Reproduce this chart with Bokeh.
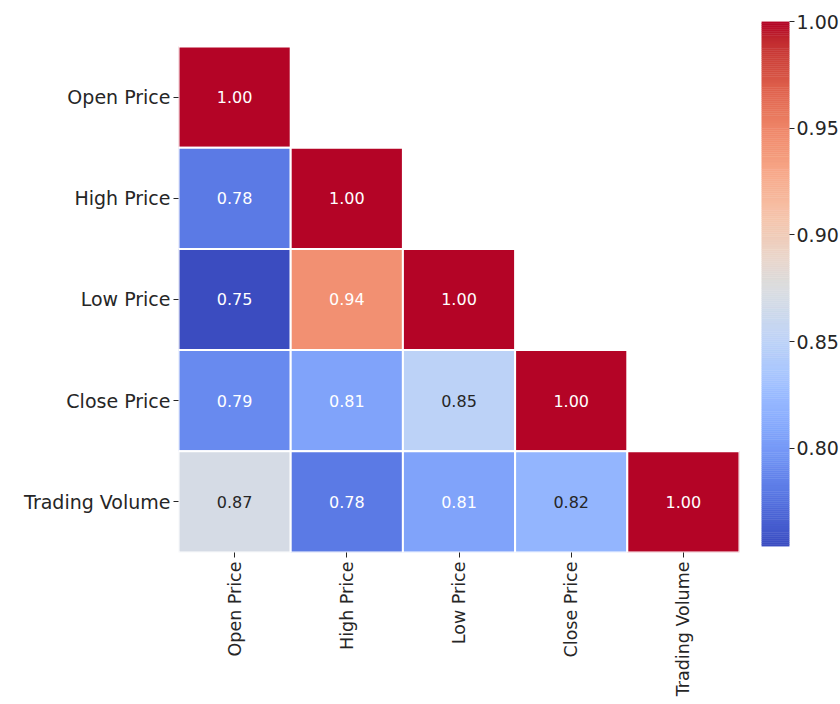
import numpy as np
from bokeh.plotting import figure
from bokeh.models import ColumnDataSource, LinearColorMapper, FixedTicker, PrintfTickFormatter, Range1d
from bokeh.layouts import row
from bokeh.embed import file_html
from bokeh.resources import INLINE
from bokeh.core.properties import value
from bokeh.transform import transform

# ---------------- data ----------------
labels = ["Open Price", "High Price", "Low Price", "Close Price", "Trading Volume"]
row_open = [1.00]
row_high = [0.78, 1.00]
row_low = [0.754, 0.944, 1.00]
row_close = [0.79, 0.806, 0.85, 1.00]
row_volume = [0.87, 0.78, 0.806, 0.82, 1.00]
cbar_ticks = [0.80, 0.85, 0.90, 0.95, 1.00]

rows = [row_open, row_high, row_low, row_close, row_volume]

# ---------------- coolwarm palette (style) ----------------
_cw = [
    (0.2298057, 0.298717966, 0.753683153), (0.26623388, 0.353094838, 0.801466763),
    (0.30386891, 0.406535296, 0.84495867), (0.342804478, 0.458757618, 0.883725899),
    (0.38301334, 0.50941904, 0.917387822), (0.424369608, 0.558148092, 0.945619588),
    (0.46666708, 0.604562568, 0.968154911), (0.509635204, 0.648280772, 0.98478814),
    (0.552953156, 0.688929332, 0.995375608), (0.596262162, 0.726149107, 0.999836203),
    (0.639176211, 0.759599947, 0.998151185), (0.681291281, 0.788964712, 0.990363227),
    (0.722193294, 0.813952739, 0.976574709), (0.761464949, 0.834302879, 0.956945269),
    (0.798691636, 0.849786142, 0.931688648), (0.833466556, 0.860207984, 0.901068838),
    (0.865395197, 0.86541021, 0.865395561), (0.897787179, 0.848937047, 0.820880546),
    (0.924127593, 0.827384882, 0.774508472), (0.944468518, 0.800927443, 0.726736146),
    (0.958852946, 0.769767752, 0.678007945), (0.96732803, 0.734132809, 0.628751763),
    (0.969954137, 0.694266682, 0.579375448), (0.966811177, 0.650421156, 0.530263762),
    (0.958003065, 0.602842431, 0.481775914), (0.943660866, 0.551750968, 0.434243684),
    (0.923944917, 0.49730856, 0.387970225), (0.89904617, 0.439559467, 0.343229596),
    (0.869186849, 0.378313092, 0.300267182), (0.834620542, 0.312874446, 0.259301199),
    (0.795631745, 0.24128379, 0.220525627), (0.752534934, 0.157246067, 0.184115123),
    (0.705673158, 0.01555616, 0.150232812),
]
_cw = np.array(_cw)
_pos = np.linspace(0, 1, len(_cw))
_t = np.linspace(0, 1, 256)
_rgb = np.stack([np.interp(_t, _pos, _cw[:, k]) for k in range(3)], axis=1)
palette = ["#%02x%02x%02x" % tuple(int(round(c * 255)) for c in rgb) for rgb in _rgb]

# ---------------- build table ----------------
xs, ys, vals, txt, tcol = [], [], [], [], []
all_vals = [v for r in rows for v in r]
low, high = min(all_vals), max(all_vals)


def lum(rgb):
    lin = np.where(rgb <= 0.03928, rgb / 12.92, ((rgb + 0.055) / 1.055) ** 2.4)
    return 0.2126 * lin[0] + 0.7152 * lin[1] + 0.0722 * lin[2]


for i, r in enumerate(rows):
    for j, v in enumerate(r):
        xs.append(labels[j])
        ys.append(i + 0.5)
        vals.append(v)
        txt.append("%.2f" % v)
        tpos = (v - low) / (high - low)
        rgb = np.array([np.interp(tpos, _pos, _cw[:, k]) for k in range(3)])
        tcol.append("#262626" if lum(rgb) > 0.408 else "#ffffff")

src = ColumnDataSource(dict(x=xs, y=ys, v=vals, t=txt, c=tcol))
mapper = LinearColorMapper(palette=palette, low=low, high=high)

FONT = "DejaVu Sans"
TXT = "#262626"
TOP_PAD = 0.247  # blank space above the first row (in row units)

p = figure(x_range=labels, y_range=Range1d(len(labels), -TOP_PAD),
           frame_width=561, frame_height=531,
           min_border_left=178, min_border_top=21, min_border_right=2, min_border_bottom=120,
           toolbar_location=None, output_backend="svg")
p.rect(x="x", y="y", width=1, height=1, source=src,
       fill_color=transform("v", mapper), line_color="white", line_width=2)
p.text(x="x", y="y", text="t", source=src, text_color="c",
       text_align="center", text_baseline="middle",
       text_font=value(FONT), text_font_size="16px")

p.yaxis.ticker = FixedTicker(ticks=[k + 0.5 for k in range(len(labels))])
p.yaxis.major_label_overrides = {k + 0.5: lab for k, lab in enumerate(labels)}

p.grid.visible = False
p.outline_line_color = None
for ax in (p.xaxis[0], p.yaxis[0]):
    ax.axis_line_color = None
    ax.major_tick_line_color = TXT
    ax.major_tick_in = 0
    ax.major_tick_out = 5
    ax.minor_tick_line_color = None
    ax.major_label_text_font = FONT
    ax.major_label_text_color = TXT
p.yaxis.major_label_text_font_size = "19px"
p.xaxis.major_label_text_font_size = "17.5px"
p.xaxis.major_label_standoff = 4
p.yaxis.major_label_standoff = 3
p.xaxis.major_label_orientation = np.pi / 2

# ---------------- colorbar ----------------
n = len(palette)
step = (high - low) / n
cb_src = ColumnDataSource(dict(
    bottom=[low + k * step for k in range(n)],
    top=[low + (k + 1) * step for k in range(n)],
    color=palette,
))
cb = figure(x_range=(0, 1), y_range=(low, high),
            frame_width=28, frame_height=525,
            min_border_left=20, min_border_top=21, min_border_bottom=120, min_border_right=2,
            y_axis_location="right", x_axis_location=None,
            toolbar_location=None, output_backend="svg")
cb.quad(left=0, right=1, bottom="bottom", top="top", source=cb_src,
        fill_color="color", line_color="color", line_width=0.5)
cb.grid.visible = False
cb.outline_line_color = None
ya = cb.yaxis[0]
ya.ticker = FixedTicker(ticks=cbar_ticks)
ya.formatter = PrintfTickFormatter(format="%.2f")
ya.axis_line_color = None
ya.major_tick_line_color = TXT
ya.major_tick_in = 0
ya.major_tick_out = 5
ya.minor_tick_line_color = None
ya.major_label_text_font = FONT
ya.major_label_text_font_size = "19px"
ya.major_label_text_color = TXT
ya.major_label_standoff = 2

layout = row(p, cb)
open("out.html", "w").write(file_html(layout, INLINE))
